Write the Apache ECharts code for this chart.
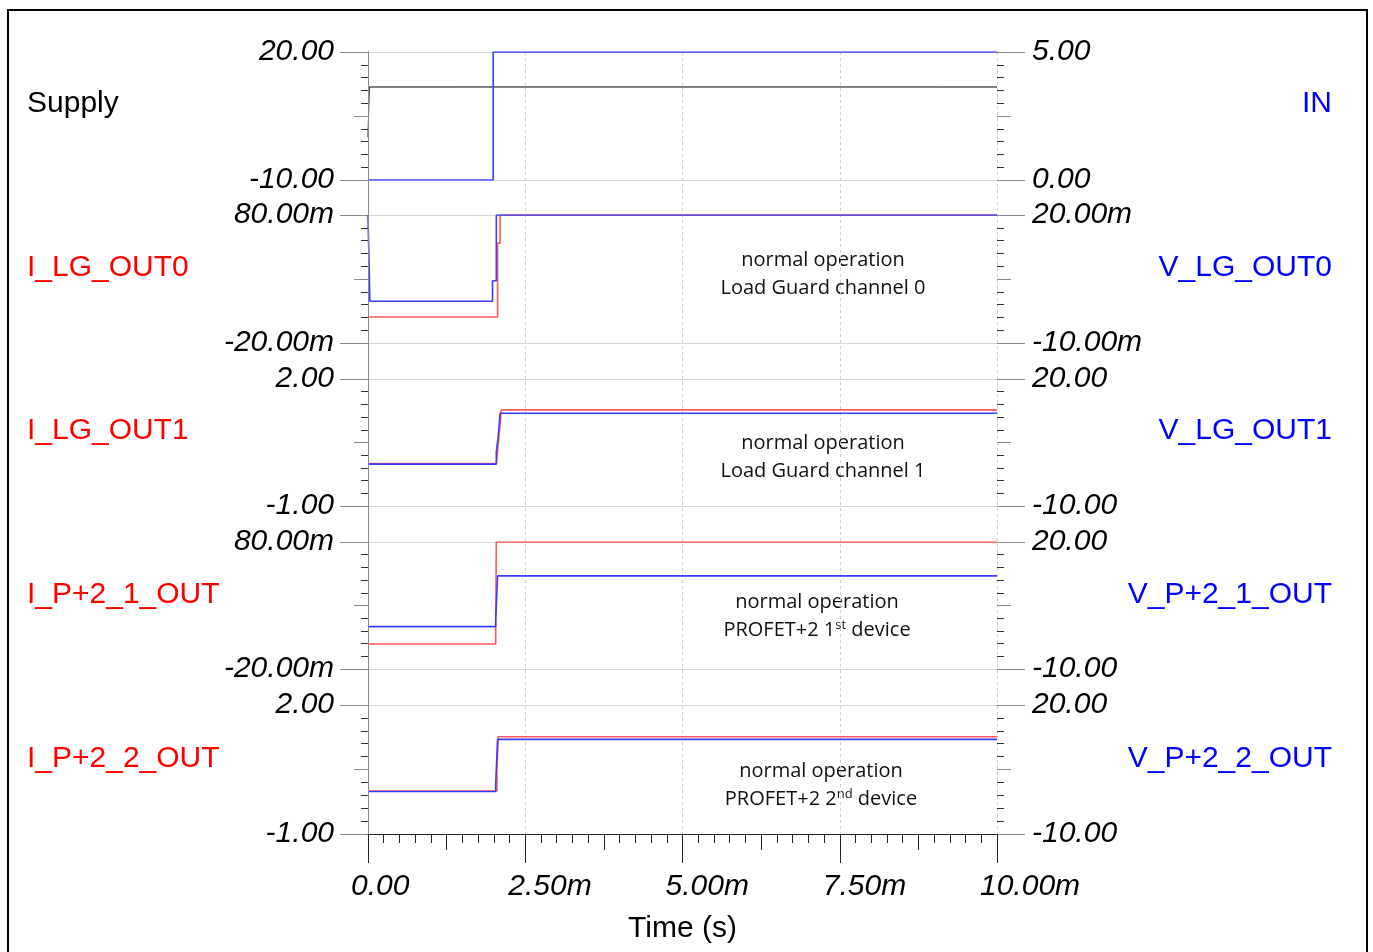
<!DOCTYPE html>
<html>
<head>
<meta charset="utf-8">
<title>Load Guard - normal operation</title>
<script src="https://cdn.jsdelivr.net/npm/echarts@6/dist/echarts.min.js"></script>
<style>
html, body { margin: 0; padding: 0; background: #fff; }
#js-scope { width: 1373px; height: 952px; }
</style>
</head>
<body>
<div id="js-scope"></div>
<script>
// time axis (s)
var timeTicks = ['0.00', '2.50m', '5.00m', '7.50m', '10.00m'];
var timeName = 'Time (s)';

var leftNames = ['Supply', 'I_LG_OUT0', 'I_LG_OUT1', 'I_P+2_1_OUT', 'I_P+2_2_OUT'];
var rightNames = ['IN', 'V_LG_OUT0', 'V_LG_OUT1', 'V_P+2_1_OUT', 'V_P+2_2_OUT'];

var leftRange = [[-10, 20], [-0.02, 0.08], [-1, 2], [-0.02, 0.08], [-1, 2]];
var rightRange = [[0, 5], [-0.01, 0.02], [-10, 20], [-10, 20], [-10, 20]];
// [bottom, top]
var leftTicks = [['-10.00', '20.00'], ['-20.00m', '80.00m'], ['-1.00', '2.00'], ['-20.00m', '80.00m'], ['-1.00', '2.00']];
var rightTicks = [['0.00', '5.00'], ['-10.00m', '20.00m'], ['-10.00', '20.00'], ['-10.00', '20.00'], ['-10.00', '20.00']];

var notes = [
    null,
    ['normal operation', 'Load Guard channel 0', ''],
    ['normal operation', 'Load Guard channel 1', ''],
    ['normal operation', 'PROFET+2 1', 'st'],
    ['normal operation', 'PROFET+2 2', 'nd']
];

// [t, value]
var supply = [[0, 0], [0.00002, 11.8], [0.01, 11.8]];
var vIn = [[0, 0], [0.00199, 0], [0.00199, 5], [0.01, 5]];

var iLgOut0 = [[0, 0.0003], [0.00206, 0.0003], [0.00206, 0.058], [0.0021, 0.058], [0.0021, 0.08], [0.01, 0.08]];
var vLgOut0 = [[0, 0.02], [0.00003, -0.0002], [0.00198, -0.0002], [0.00198, 0.0046], [0.00204, 0.0046], [0.00204, 0.02], [0.01, 0.02]];

var iLgOut1 = [[0, 0], [0.00204, 0], [0.00208, 0.6], [0.00212, 1.27], [0.01, 1.27]];
var vLgOut1 = [[0, -0.1], [0.00204, -0.1], [0.00204, 2.8], [0.00207, 2.8], [0.00207, 6.4], [0.0021, 6.4], [0.0021, 11.9], [0.01, 11.9]];

var iP2Out1 = [[0, -0.0003], [0.00203, -0.0003], [0.00203, 0.008], [0.00204, 0.008], [0.00204, 0.08], [0.01, 0.08]];
var vP2Out1 = [[0, 0], [0.00203, 0], [0.00203, 1.6], [0.00206, 1.6], [0.00206, 12], [0.01, 12]];

var iP2Out2 = [[0, 0], [0.00205, 0], [0.00205, 0.5], [0.00207, 0.5], [0.00207, 1.26], [0.01, 1.26]];
var vP2Out2 = [[0, -0.1], [0.00203, -0.1], [0.00203, 1.5], [0.00206, 1.5], [0.00206, 12], [0.01, 12]];

var leftData = [supply, iLgOut0, iLgOut1, iP2Out1, iP2Out2];
var rightData = [vIn, vLgOut0, vLgOut1, vP2Out1, vP2Out2];

var scope = {
    font: 'Liberation Sans, Arial, sans-serif',
    noteFont: 'Open Sans, Noto Sans, sans-serif',
    panels: [
        { top: 52, height: 128, label: 104, note: 0, noteX: 0 },
        { top: 215, height: 128, label: 268, note: 246, noteX: 823 },
        { top: 379, height: 127, label: 431, note: 429, noteX: 823 },
        { top: 542, height: 127, label: 595, note: 588, noteX: 817 },
        { top: 705, height: 129, label: 759, note: 757, noteX: 821 }
    ],
    init: function () {
        var me = this;
        me.chart = echarts.init(document.getElementById('js-scope'), null, { renderer: 'canvas' });
        me.chart.setOption(me.buildOption());
    },
    tickAxis: function (grid, pos, interval, len, ticks) {
        var axis = {
            type: 'value', gridIndex: grid, position: pos,
            min: 0, max: 1, interval: interval,
            axisLine: { show: false },
            axisTick: { show: true, inside: false, length: len, lineStyle: { color: '#8a8a8a', width: 1 } },
            axisLabel: { show: false },
            splitLine: { show: false },
            minorTick: { show: false },
            minorSplitLine: { show: false }
        };
        if (ticks) {
            axis.axisLabel = {
                show: true, margin: pos == 'left' ? 34 : 35,
                showMinLabel: true, showMaxLabel: true,
                fontFamily: this.font, fontStyle: 'italic', fontSize: 30, color: '#000',
                formatter: function (v) { return v < 0.5 ? ticks[0] : ticks[1]; }
            };
            axis.splitLine = { show: true, lineStyle: { color: '#d6d6d6', width: 1 } };
            axis.minorTick = { show: true, splitNumber: 10, length: 7, lineStyle: { color: '#333', width: 1 } };
        }
        return axis;
    },
    buildOption: function () {
        var me = this;
        var grid = [{ left: 368, right: 376, top: 52, height: 782, containLabel: false, outerBoundsMode: 'none' }];
        var xAxis = [
            {
                type: 'value', gridIndex: 0, position: 'bottom', min: 0, max: 0.01, interval: 0.0025, z: 0,
                axisLine: { show: false }, axisTick: { show: false }, axisLabel: { show: false },
                splitLine: { show: true, lineStyle: { color: '#cfcfcf', type: [3, 3], width: 1 } }
            },
            {
                type: 'value', gridIndex: 0, position: 'bottom', min: 0, max: 0.01, interval: 0.0025, z: 5,
                axisLine: { show: true, lineStyle: { color: '#222', width: 1 } },
                axisTick: { show: true, length: 29, lineStyle: { color: '#222', width: 1 } },
                minorTick: { show: true, splitNumber: 10, length: 9, lineStyle: { color: '#222', width: 1 } },
                splitLine: { show: false },
                axisLabel: {
                    show: true, margin: 38, align: 'left', padding: [0, 0, 0, -17],
                    showMinLabel: true, showMaxLabel: true,
                    fontFamily: me.font, fontStyle: 'italic', fontSize: 30, color: '#000',
                    formatter: function (v) { return timeTicks[Math.round(v / 0.0025)]; }
                },
                name: timeName, nameLocation: 'middle', nameGap: 80,
                nameTextStyle: { fontFamily: me.font, fontSize: 30, color: '#000' }
            },
            {
                type: 'value', gridIndex: 0, position: 'bottom', min: 0, max: 0.01, interval: 0.00125, z: 5,
                axisLine: { show: false }, axisLabel: { show: false }, splitLine: { show: false },
                axisTick: { show: true, length: 16, lineStyle: { color: '#222', width: 1 } }
            }
        ];
        var yAxis = [
            {
                type: 'value', gridIndex: 0, position: 'left', min: 0, max: 1, z: 4,
                axisLine: { show: true, lineStyle: { color: '#222', width: 1 } },
                axisTick: { show: false }, axisLabel: { show: false }, splitLine: { show: false }
            },
            {
                type: 'value', gridIndex: 0, position: 'right', min: 0, max: 1, z: 4,
                axisLine: { show: true, lineStyle: { color: '#8a8a8a', width: 1 } },
                axisTick: { show: false }, axisLabel: { show: false }, splitLine: { show: false }
            }
        ];
        var series = [];
        var graphic = [{
            type: 'rect', shape: { x: 8, y: 10, width: 1359, height: 960 },
            style: { fill: 'none', stroke: '#000', lineWidth: 2 }, silent: true
        }];

        for (var i = 0; i < me.panels.length; i++) {
            var p = me.panels[i];
            var g = i + 1;
            grid.push({ left: 368, right: 376, top: p.top, height: p.height, containLabel: false, outerBoundsMode: 'none' });
            xAxis.push({ type: 'value', gridIndex: g, min: 0, max: 0.01, show: false });

            var leftIdx = yAxis.length;
            yAxis.push({ type: 'value', gridIndex: g, position: 'left', min: leftRange[i][0], max: leftRange[i][1], show: false });
            var rightIdx = yAxis.length;
            yAxis.push({ type: 'value', gridIndex: g, position: 'right', min: rightRange[i][0], max: rightRange[i][1], show: false });
            yAxis.push(me.tickAxis(g, 'left', 1, 28, leftTicks[i]));
            yAxis.push(me.tickAxis(g, 'left', 0.5, 14));
            yAxis.push(me.tickAxis(g, 'right', 1, 28, rightTicks[i]));
            yAxis.push(me.tickAxis(g, 'right', 0.5, 14));

            series.push({
                name: leftNames[i], type: 'line', xAxisIndex: xAxis.length - 1, yAxisIndex: leftIdx,
                data: leftData[i], showSymbol: false, symbol: 'none', silent: true, animation: false,
                lineStyle: { color: i == 0 ? '#000' : '#ff5a5a', width: i == 0 ? 1 : 1.6 }
            });
            series.push({
                name: rightNames[i], type: 'line', xAxisIndex: xAxis.length - 1, yAxisIndex: rightIdx,
                data: rightData[i], showSymbol: false, symbol: 'none', silent: true, animation: false,
                lineStyle: { color: '#3c3cff', width: 1.6 }
            });

            graphic.push({
                type: 'text', silent: true,
                style: {
                    x: 27, y: p.label, text: leftNames[i], align: 'left', verticalAlign: 'middle',
                    font: '30px ' + me.font, fill: i == 0 ? '#000' : '#ff0000'
                }
            });
            graphic.push({
                type: 'text', silent: true,
                style: {
                    x: 1332, y: p.label, text: rightNames[i], align: 'right', verticalAlign: 'middle',
                    font: '30px ' + me.font, fill: '#0000ff'
                }
            });

            var n = notes[i];
            if (n) {
                var txt = '{n|' + n[0] + '}\n{n|' + n[1] + '}' + (n[2] ? '{s|' + n[2] + '}{n| device}' : '');
                graphic.push({
                    type: 'text', silent: true,
                    style: {
                        x: p.noteX, y: p.note, text: txt, align: 'center', verticalAlign: 'top',
                        rich: {
                            n: { fontFamily: me.noteFont, fontSize: 20, lineHeight: 28, fill: '#111', color: '#111' },
                            s: { fontFamily: me.noteFont, fontSize: 13, lineHeight: 28, verticalAlign: 'top', padding: [3, 0, 0, 0], fill: '#111', color: '#111' }
                        }
                    }
                });
            }
        }

        return {
            backgroundColor: '#fff',
            animation: false,
            grid: grid,
            xAxis: xAxis,
            yAxis: yAxis,
            series: series,
            graphic: graphic
        };
    }
};
scope.init();
</script>
</body>
</html>
